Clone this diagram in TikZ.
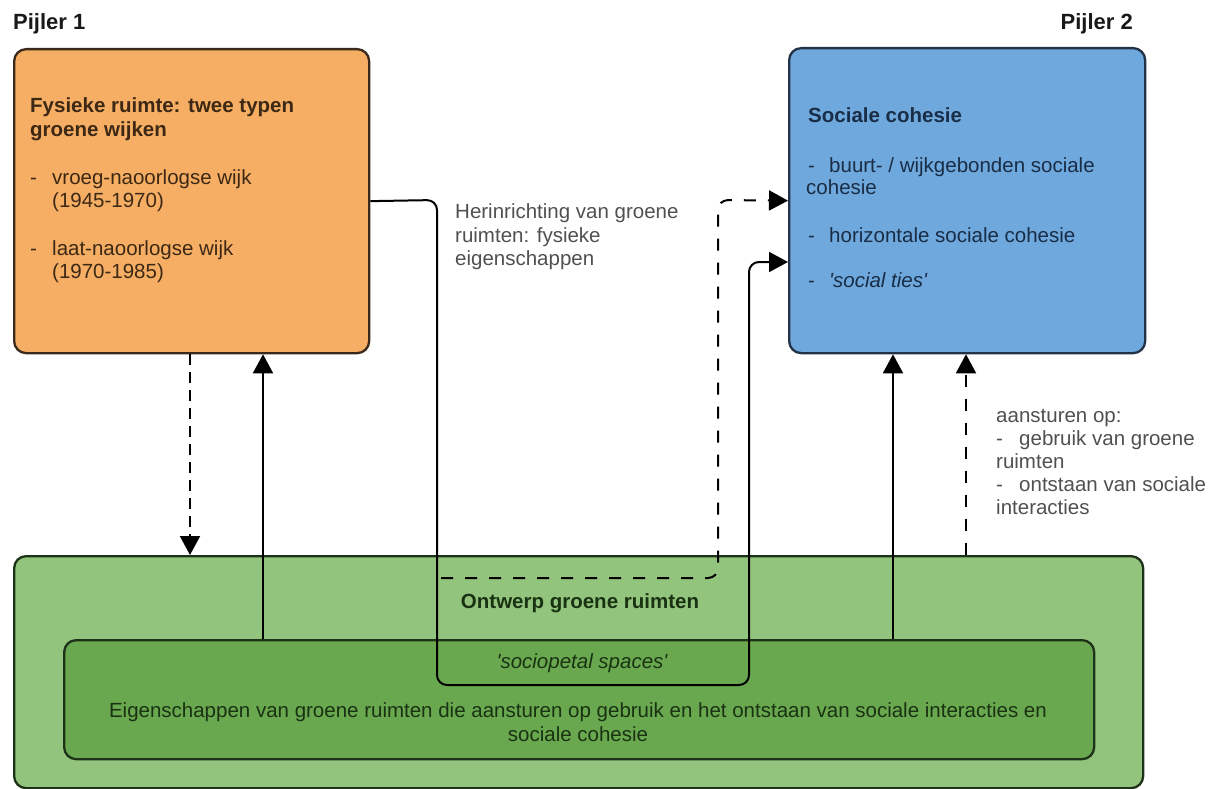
\documentclass[tikz,border=0pt]{standalone}
\usepackage{fontspec}
\setmainfont{Liberation Sans}
\newfontfamily\arial{Liberation Sans}
\usetikzlibrary{arrows.meta}
\definecolor{orfill}{RGB}{245,174,99}
\definecolor{orline}{RGB}{58,42,28}
\definecolor{blfill}{RGB}{111,168,220}
\definecolor{blline}{RGB}{35,50,70}
\definecolor{gfill}{RGB}{147,196,125}
\definecolor{gfilldark}{RGB}{106,168,79}
\definecolor{gline}{RGB}{30,50,25}
\definecolor{ortext}{RGB}{60,40,20}
\definecolor{bltext}{RGB}{25,45,70}
\definecolor{gtext}{RGB}{25,50,18}
\definecolor{graytext}{RGB}{80,80,80}
\begin{document}
\begin{tikzpicture}[x=1pt,y=-1pt,
  box/.style={draw, line width=2.3pt, rounded corners=12pt, inner sep=0pt, anchor=north west},
  txt/.style={anchor=base west, inner sep=0pt, font=\arial\fontsize{20.5}{23.5}\selectfont},
  ctxt/.style={anchor=base, inner sep=0pt, font=\arial\fontsize{20.5}{23.5}\selectfont},
  btxt/.style={txt, font=\arial\bfseries\fontsize{20.5}{23.5}\selectfont},
  conn/.style={line width=2pt, rounded corners=10pt},
  tip/.style={-{Triangle[width=20pt,length=19pt]}},
  dsh/.style={dash pattern=on 12pt off 12pt},
  dshb/.style={dash pattern=on 11pt off 7pt}
]
\useasboundingbox (0,0) rectangle (1215,789);

% boxes
\node[box, fill=orfill, draw=orline, minimum width=355pt, minimum height=304pt] (orange) at (13,48) {};
\node[box, fill=blfill, draw=blline, minimum width=356pt, minimum height=305pt] (blue) at (788,47) {};
\node[box, fill=gfill, draw=gline, minimum width=1129pt, minimum height=232pt] (outer) at (13,555) {};
\node[box, fill=gfilldark, draw=gline, minimum width=1030pt, minimum height=119pt] (inner) at (63,639) {};

% pillar titles
\node[txt, font=\arial\bfseries\fontsize{22}{26}\selectfont, text=black!90] (p1) at (13,30) {Pijler 1};
\node[anchor=base east, inner sep=0pt, font=\arial\bfseries\fontsize{22}{26}\selectfont, text=black!90] (p2) at (1133,30) {Pijler 2};

% orange box text
\node[btxt, text=ortext] (o1) at (30,113) {Fysieke ruimte: twee typen};
\node[btxt, text=ortext] (o2) at (30,137) {groene wijken};
\node[txt, text=ortext] (o3d) at (30,184) {-};
\node[txt, text=ortext] (o3) at (52,184) {vroeg-naoorlogse wijk};
\node[txt, text=ortext] (o4) at (52,207) {(1945-1970)};
\node[txt, text=ortext] (o5d) at (30,255) {-};
\node[txt, text=ortext] (o5) at (52,255) {laat-naoorlogse wijk};
\node[txt, text=ortext] (o6) at (52,278) {(1970-1985)};

% blue box text
\node[btxt, text=bltext] (b1) at (808,123) {Sociale cohesie};
\node[txt, text=bltext] (b2d) at (808,172) {-};
\node[txt, text=bltext] (b2) at (829,172) {buurt- / wijkgebonden sociale};
\node[txt, text=bltext] (b3) at (806,194) {cohesie};
\node[txt, text=bltext] (b4d) at (808,242) {-};
\node[txt, text=bltext] (b4) at (829,242) {horizontale sociale cohesie};
\node[txt, text=bltext] (b5d) at (808,287) {-};
\node[txt, text=bltext, font=\arial\itshape\fontsize{20.5}{23.5}\selectfont] (b5) at (829,287) {'social ties'};

% edge labels
\node[txt, text=graytext] (h1) at (455,218) {Herinrichting van groene};
\node[txt, text=graytext] (h2) at (455,242) {ruimten: fysieke};
\node[txt, text=graytext] (h3) at (455,265) {eigenschappen};

\node[txt, text=graytext] (a1) at (996,422) {aansturen op:};
\node[txt, text=graytext] (a2d) at (996,445) {-};
\node[txt, text=graytext] (a2) at (1019,445) {gebruik van groene};
\node[txt, text=graytext] (a3) at (996,468) {ruimten};
\node[txt, text=graytext] (a4d) at (996,491) {-};
\node[txt, text=graytext] (a4) at (1019,491) {ontstaan van sociale};
\node[txt, text=graytext] (a5) at (996,514) {interacties};

% green texts
\node[ctxt, text=gtext, font=\arial\bfseries\fontsize{20.5}{23.5}\selectfont] (g1) at (580,608) {Ontwerp groene ruimten};
\node[ctxt, text=gtext, font=\arial\itshape\fontsize{20.5}{23.5}\selectfont] (g2) at (582,668) {'sociopetal spaces'};
\node[ctxt, text=gtext] (g3) at (578,717) {Eigenschappen van groene ruimten die aansturen op gebruik en het ontstaan van sociale interacties en};
\node[ctxt, text=gtext] (g4) at (578,741) {sociale cohesie};

% connectors
\coordinate (dstart) at (441,578);
\draw[conn, tip] (orange.east) -- (437,200) -- (437,685) -- (749,685) -- (749,262) -- (blue.west |- 0,262);
\draw[conn, dsh, tip] (dstart) -- (718,578) -- (718,200) -- (blue.west);
\draw[conn, dshb, tip] (orange.south -| 190,0) -- (outer.north -| 190,0);
\draw[conn, tip] (inner.north -| 263,0) -- (orange.south -| 263,0);
\draw[conn, tip] (inner.north -| 893,0) -- (blue.south -| 893,0);
\draw[conn, dsh, tip] (outer.north -| 966,0) -- (blue.south -| 966,0);
\end{tikzpicture}
\end{document}
